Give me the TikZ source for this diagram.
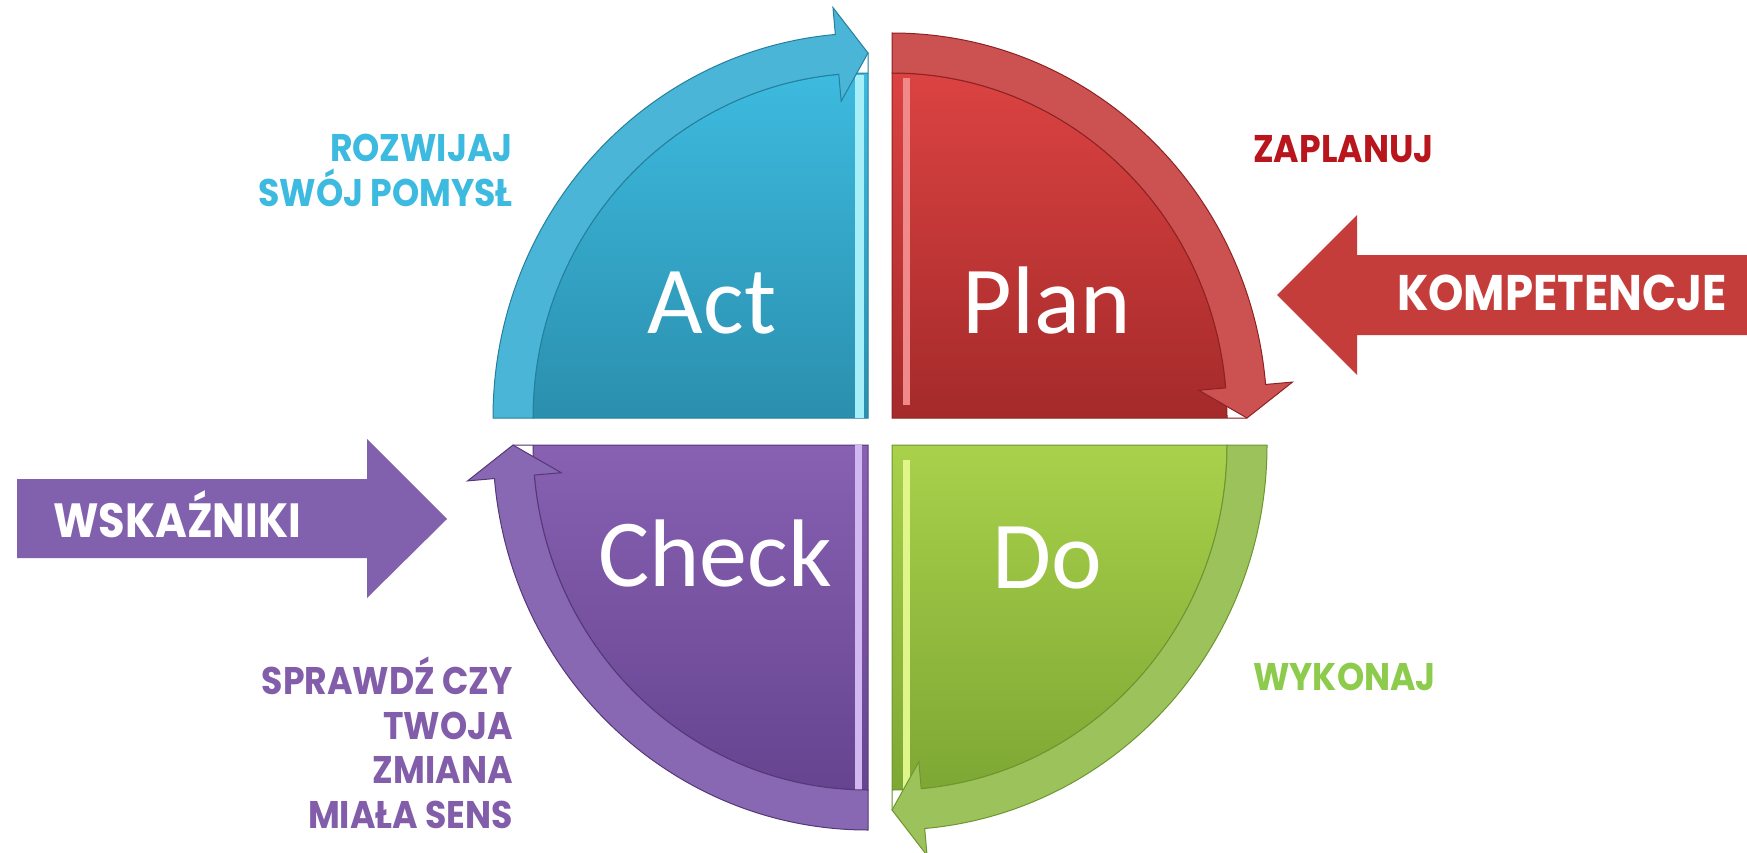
\documentclass[tikz,border=0pt]{standalone}
\usepackage{fontspec}
\setmainfont{Carlito}
\newfontfamily\gothic{Poppins}[FakeStretch=0.9]
\usetikzlibrary{calc}
\definecolor{planT}{HTML}{DB4342}
\definecolor{planB}{HTML}{A52A2A}
\definecolor{planA}{HTML}{CC5252}
\definecolor{planE}{HTML}{8E2222}
\definecolor{planL}{HTML}{F08A8A}
\definecolor{doT}{HTML}{A9D14B}
\definecolor{doB}{HTML}{7AA532}
\definecolor{doA}{HTML}{9CC35B}
\definecolor{doE}{HTML}{6E9530}
\definecolor{doL}{HTML}{E0F58A}
\definecolor{checkT}{HTML}{8861B2}
\definecolor{checkB}{HTML}{664490}
\definecolor{checkA}{HTML}{8868B2}
\definecolor{checkE}{HTML}{553878}
\definecolor{checkL}{HTML}{D2B8F0}
\definecolor{actT}{HTML}{3EBDE2}
\definecolor{actB}{HTML}{2B8FAE}
\definecolor{actA}{HTML}{4AB5D6}
\definecolor{actE}{HTML}{25809E}
\definecolor{actL}{HTML}{A6EEF8}
\definecolor{zaplanuj}{HTML}{B8151D}
\definecolor{wykonaj}{HTML}{8CCB4B}
\definecolor{rozwijaj}{HTML}{3DBADF}
\definecolor{sprawdz}{HTML}{825DAA}
\definecolor{kompetencje}{HTML}{C53D3A}
\definecolor{wskazniki}{HTML}{8160AD}
\begin{document}
\begin{tikzpicture}[x=1pt, y=1pt,
		quadlabel/.style={text=white, font=\fontsize{96}{100}\selectfont, inner sep=0pt, anchor=base},
		sidelabel/.style={font=\gothic\bfseries\fontsize{38.5}{44.5}\selectfont, inner sep=0pt},
		arrowlabel/.style={text=white, font=\gothic\bfseries\fontsize{48}{50}\selectfont, inner sep=0pt, anchor=base west}]
		
		\useasboundingbox (0,0) rectangle (1747,-853);
		\fill[white] (0,0) rectangle (1747,-853);
		
		\coordinate (plan) at (892,-418);
		\coordinate (do) at (892,-445);
		\coordinate (check) at (868,-445);
		\coordinate (act) at (868,-418);
		
		\foreach \name/\s/\e in {plan/90/0, do/0/-90, check/-90/-180, act/180/90}{
			\coordinate (\name tip) at ($(\name)+(\e:355 and 365)$);
			\path[top color=\name T, bottom color=\name B, draw=\name E, line width=1pt] (\name) -- ++(\s:335 and 345) arc[start angle=\s, end angle=\e, x radius=335, y radius=345] -- (\name tip) -- cycle;
		}
		
		\fill[planL] ($(plan)+(11,13)$) rectangle ++(7,327);
		\fill[doL] ($(do)+(11,-15)$) rectangle ++(7,-330);
		\fill[checkL] ($(check)+(-13,0)$) rectangle ++(7,-346);
		\fill[actL] ($(act)+(-13,0)$) rectangle ++(9,343);
		
		\foreach \name/\s/\e in {plan/90/0, do/0/-90, check/-90/-180, act/180/90}{
			\filldraw[fill=\name A, draw=\name E, line width=1pt] ($(\name)+(\s:375 and 385)$) arc[start angle=\s, end angle=\e+5, x radius=375, y radius=385]
				-- ($(\name)+(\e+5:402 and 412)$) -- (\name tip) -- ($(\name)+(\e+5:308 and 318)$)
				-- ($(\name)+(\e+5:335 and 345)$) arc[start angle=\e+5, end angle=\s, x radius=335, y radius=345] -- cycle;
		}
		
		\node[quadlabel] (acttxt) at (712,-333) {Act};
		\node[quadlabel] (plantxt) at (1047,-333) {Plan};
		\node[quadlabel] (checktxt) at (715,-586) {Check};
		\node[quadlabel] (dotxt) at (1047,-588) {Do};
		
		\node[sidelabel, text=rozwijaj, align=right, anchor=north east] (rozwijaj) at (513,-134) {ROZWIJAJ\\SWÓJ POMYSŁ};
		\node[sidelabel, text=zaplanuj, anchor=base west] (zaplanuj) at (1253,-163) {ZAPLANUJ};
		\node[sidelabel, text=wykonaj, anchor=base west] (wykonaj) at (1253,-690) {WYKONAJ};
		\node[sidelabel, text=sprawdz, align=right, anchor=north east] (sprawdz) at (513,-657) {SPRAWDŹ CZY\\TWOJA\\ZMIANA\\MIAŁA SENS};
		
		\fill[kompetencje] (1747,-255) -- (1357,-255) -- (1357,-215) -- (1277,-295) -- (1357,-375) -- (1357,-335) -- (1747,-335) -- cycle;
		\node[arrowlabel, font=\gothic\bfseries\fontsize{50}{52}\selectfont] (kompetencje) at (1397,-310) {KOMPETENCJE};
		\fill[wskazniki] (17,-479) -- (367,-479) -- (367,-439) -- (447,-519) -- (367,-598) -- (367,-558) -- (17,-558) -- cycle;
		\node[arrowlabel] (wskazniki) at (53,-537) {WSKAŹNIKI};
\end{tikzpicture}
\end{document}
